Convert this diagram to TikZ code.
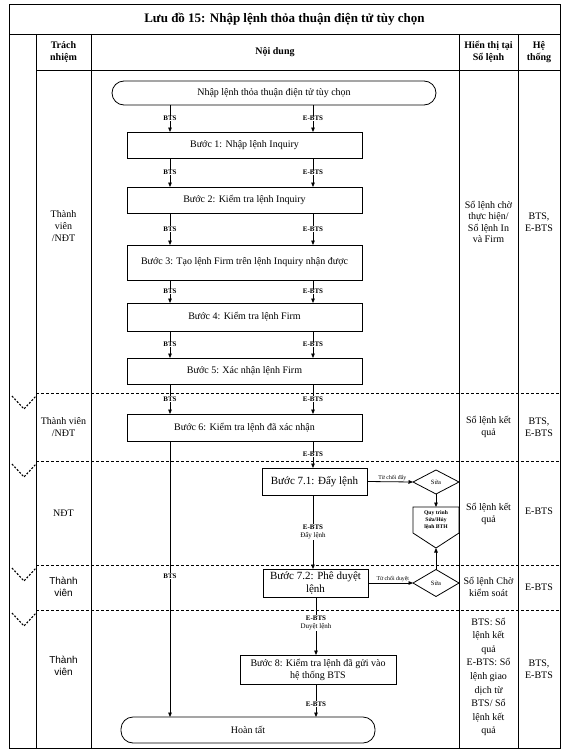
\documentclass[tikz,border=0pt]{standalone}
\usepackage{fontspec}
\setmainfont{Liberation Serif}
\newfontfamily\arialf{Liberation Sans}
\usetikzlibrary{arrows.meta,shapes.geometric}
\begin{document}
\begin{tikzpicture}[x=1pt,y=-1pt,
  every node/.style={inner sep=0pt, outer sep=0pt},
  frameline/.style={line width=0.9pt},
  rowsep/.style={line width=0.5pt, densely dashed},
  chev/.style={line width=1.1pt, dash pattern=on 2pt off 1.6pt},
  stepbox/.style={draw, line width=0.8pt, rectangle, align=center, font=\fontsize{10}{12}\selectfont},
  bigstep/.style={stepbox, font=\fontsize{11}{13}\selectfont},
  term/.style={draw, line width=0.8pt, rectangle, rounded corners=12pt, align=center, font=\fontsize{10}{12}\selectfont},
  dec/.style={draw, line width=0.8pt, diamond, minimum width=46, font=\fontsize{6.5}{7.5}\selectfont},
  flow/.style={line width=0.8pt, -{Triangle[length=4.5pt,width=3.6pt]}},
  lab/.style={font=\bfseries\fontsize{7}{8.5}\selectfont, fill=white, inner sep=0.6pt, align=center},
  tiny/.style={font=\fontsize{5.8}{7}\selectfont, inner sep=1pt},
  cell/.style={align=center, font=\fontsize{10}{12}\selectfont},
  head/.style={align=center, font=\bfseries\fontsize{10}{12}\selectfont},
  sanscell/.style={align=center, font=\arialf\fontsize{10}{12}\selectfont}
]
\useasboundingbox (0,0) rectangle (576,752);

% ---- table frame ----
\draw[frameline] (9,4) rectangle (560,748);
\draw[frameline] (9,34) -- (560,34);
\draw[frameline] (36,70) -- (560,70);
\foreach \x in {36,91,459,518} \draw[frameline] (\x,34) -- (\x,748);
\foreach \y in {393,461,565,610} {
  \draw[rowsep] (36,\y) -- (560,\y);
  \draw[chev] (12,\y+3) -- (24,\y+16) -- (36,\y+3);
}

% ---- headers ----
\node[font=\bfseries\fontsize{13}{15}\selectfont] (title) at (284.5,19) {Lưu đồ 15: Nhập lệnh thỏa thuận điện tử tùy chọn};
\node[head] (hT) at (63.5,52) {Trách\\nhiệm};
\node[head] (hN) at (275,52) {Nội dung};
\node[head] (hH) at (488.5,52) {Hiển thị tại\\Sổ lệnh};
\node[head] (hS) at (539,52) {Hệ\\thống};

% ---- side cells ----
\node[cell] (r1) at (63.5,226) {Thành\\viên\\/NĐT};
\node[cell, font=\fontsize{10}{11.5}\selectfont] (h1) at (488.5,222) {Sổ lệnh chờ\\thực hiện/\\Sổ lệnh In\\và Firm};
\node[cell] (y1) at (539,222) {BTS,\\E-BTS};

\node[cell] (r2) at (63.5,427) {Thành viên\\/NĐT};
\node[cell] (h2) at (488.5,427) {Sổ lệnh kết\\quả};
\node[cell] (y2) at (539,427) {BTS,\\E-BTS};

\node[cell] (r3) at (63.5,513) {NĐT};
\node[cell] (h3) at (488.5,514) {Sổ lệnh kết\\quả};
\node[cell] (y3) at (539,511) {E-BTS};

\node[sanscell] (r4) at (63.5,587) {Thành\\viên};
\node[cell] (h4) at (488.5,587) {Sổ lệnh Chờ\\kiểm soát};
\node[cell] (y4) at (539,587) {E-BTS};

\node[sanscell] (r5) at (63.5,666) {Thành\\viên};
\node[cell, font=\fontsize{10}{13.6}\selectfont] (h5) at (488.5,677) {BTS: Sổ\\lệnh kết\\quả\\E-BTS: Sổ\\lệnh giao\\dịch từ\\BTS/ Sổ\\lệnh kết\\quả};
\node[cell] (y5) at (539,669) {BTS,\\E-BTS};

% ---- flow nodes ----
\coordinate (bts) at (170,0);
\coordinate (ebts) at (313,0);
\coordinate (ebtsb) at (316,0);

\node[term, minimum width=324, minimum height=24] (start) at (274,93) {Nhập lệnh thỏa thuận điện tử tùy chọn};
\node[stepbox, minimum width=235, minimum height=26] (b1) at (244.5,145) {Bước 1: Nhập lệnh Inquiry};
\node[stepbox, minimum width=235, minimum height=26] (b2) at (244.5,200) {Bước 2: Kiểm tra lệnh Inquiry};
\node[stepbox, minimum width=235, minimum height=35] (b3) at (244.5,262.5) {Bước 3: Tạo lệnh Firm trên lệnh Inquiry nhận được};
\node[stepbox, minimum width=235, minimum height=28] (b4) at (244.5,317) {Bước 4: Kiểm tra lệnh Firm};
\node[stepbox, minimum width=235, minimum height=26] (b5) at (244.5,371) {Bước 5: Xác nhận lệnh Firm};
\node[stepbox, minimum width=235, minimum height=27] (b6) at (244.5,427.5) {Bước 6: Kiểm tra lệnh đã xác nhận};
\node[bigstep, minimum width=105, minimum height=27] (b71) at (314.5,481.5) {Bước 7.1: Đẩy lệnh};
\node[bigstep, minimum width=105, minimum height=28, font=\fontsize{11}{12.5}\selectfont] (b72) at (315.5,583) {Bước 7.2: Phê duyệt\\lệnh};
\node[stepbox, minimum width=156, minimum height=29] (b8) at (318,669.5) {Bước 8: Kiểm tra lệnh đã gửi vào\\hệ thống BTS};
\node[term, minimum width=254, minimum height=26] (end) at (248,730) {Hoàn tất};

\node[dec, minimum height=24] (s1) at (436,482) {Sửa};
\node[dec, minimum height=27] (s2) at (436,583) {Sửa};

% off-page style pentagon
\draw[line width=0.8pt] (413,507) -- (459,507) -- (459,533) -- (436,548) -- (413,533) -- cycle;
\node[align=center, font=\bfseries\fontsize{5.6}{6.6}\selectfont] (qt) at (436,520) {Quy trình\\Sửa/Hủy\\lệnh BTH};
\coordinate (qtop) at (436,507);
\coordinate (qtip) at (436,548);

% ---- connectors ----
\foreach \a/\b in {start/b1,b1/b2,b2/b3,b3/b4,b4/b5,b5/b6} {
  \draw[flow] (\a.south -| bts) -- node[lab]{BTS} (\b.north -| bts);
  \draw[flow] (\a.south -| ebts) -- node[lab]{E-BTS} (\b.north -| ebts);
}
\draw[flow] (b6.south -| ebts) -- node[lab]{E-BTS} (b71.north -| ebts);
\draw[flow] (b6.south -| bts) -- node[lab, pos=0.49]{BTS} (end.north -| bts);
\draw[flow] (b71.south -| ebts) -- node[lab, pos=0.5]{E-BTS\\{\mdseries Đẩy lệnh}} (b72.north -| ebts);
\draw[flow] (b72.south -| ebtsb) -- node[lab, pos=0.45]{E-BTS\\{\mdseries Duyệt lệnh}} (b8.north -| ebtsb);
\draw[flow] (b8.south -| ebtsb) -- node[lab, pos=0.6]{E-BTS} (end.north -| ebtsb);

\draw[flow] (b71.east) -- node[tiny, above, pos=0.55]{Từ chối đẩy} (s1.west);
\draw[flow] (b72.east) -- node[tiny, above, pos=0.55]{Từ chối duyệt} (s2.west);
\draw[flow] (s1.south) -- (qtop);
\draw[flow] (s2.north) -- (qtip);
\end{tikzpicture}
\end{document}
